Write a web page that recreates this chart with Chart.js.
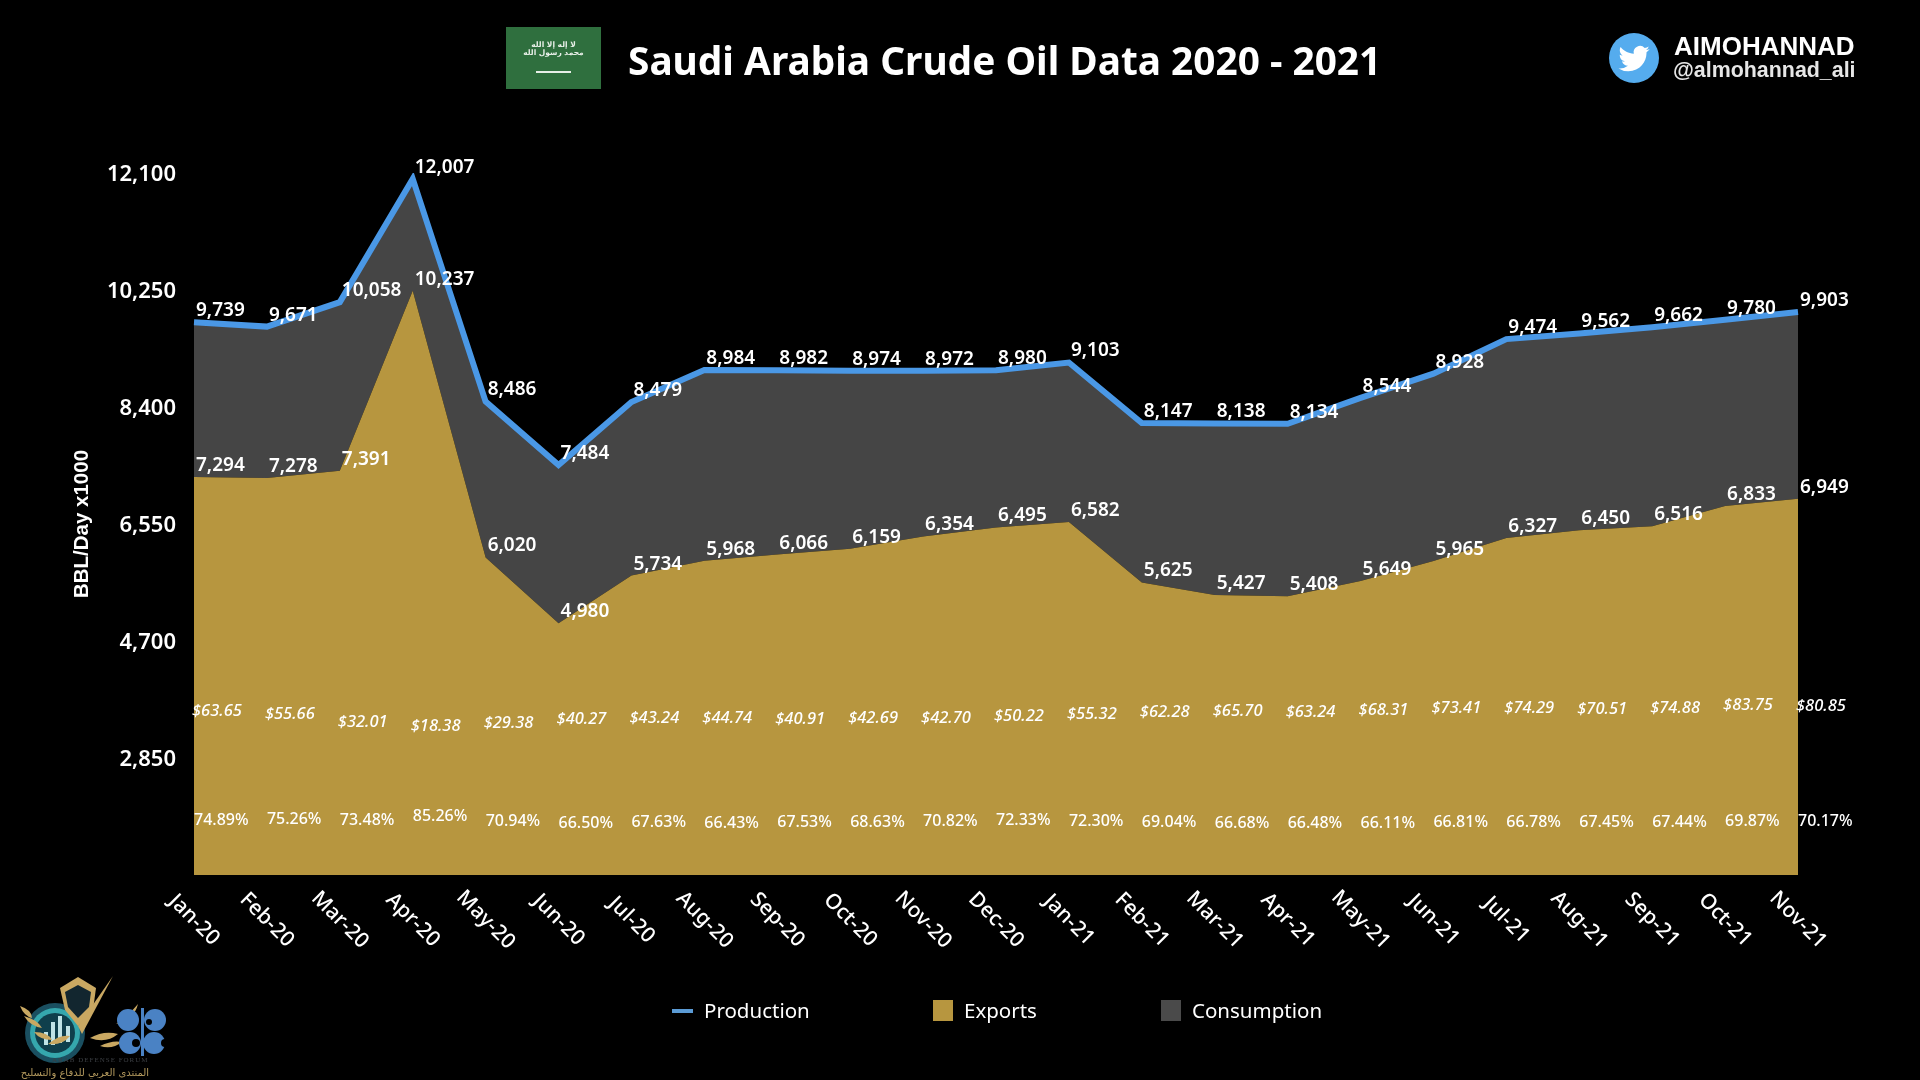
<!DOCTYPE html>
<html>
<head>
<meta charset="utf-8">
<title>Saudi Arabia Crude Oil Data 2020 - 2021</title>
<script src="https://cdn.jsdelivr.net/npm/chart.js@4"></script>
<style>
    html, body { margin: 0; padding: 0; background: #000; }
    #page { position: relative; width: 1920px; height: 1080px; overflow: hidden; background: #000; font-family: "Noto Sans", sans-serif; color: #fff; }
    #chart { position: absolute; left: 0; top: 0; }
    .abs { position: absolute; white-space: nowrap; }
    #title { left: 628px; top: 30px; font-size: 38.8px; font-weight: 700; line-height: 60px; }
    #flag { left: 506px; top: 27px; width: 95px; height: 62px; background: #2f6f3e; }
    #shahada { left: 0; width: 95px; top: 14px; text-align: center; font: 700 7.5px/8px "DejaVu Sans"; color: #e8efe8; }
    #sword { left: 30px; top: 44px; width: 35px; height: 2px; background: #e8efe8; }
    #brand { left: 1674px; top: 30px; font: 700 26px/32px "Liberation Sans"; }
    #handle { left: 1673px; top: 57px; font: 700 21.4px/26px "Liberation Sans"; color: #e6e6e6; }
    .legend-text { top: 993px; font-size: 20.5px; line-height: 34px; }
    .swatch { top: 1000px; width: 20px; height: 21px; }
</style>
</head>
<body>
<div id="page">
    <canvas id="chart" width="1920" height="1080"></canvas>

    <div class="abs" id="flag">
        <div class="abs" id="shahada" dir="rtl">لا إله إلا الله<br>محمد رسول الله</div>
        <div class="abs" id="sword"></div>
    </div>
    <div class="abs" id="title">Saudi Arabia Crude Oil Data 2020 - 2021</div>

    <svg class="abs" style="left:1609px;top:33px" width="50" height="50" viewBox="0 0 50 50">
        <circle cx="25" cy="25" r="25" fill="#55acee"/>
        <path transform="translate(9.5,10) scale(1.3)" fill="#fff" d="M23.953 4.57a10 10 0 01-2.825.775 4.958 4.958 0 002.163-2.723c-.951.555-2.005.959-3.127 1.184a4.92 4.92 0 00-8.384 4.482C7.69 8.095 4.067 6.13 1.64 3.162a4.822 4.822 0 00-.666 2.475c0 1.71.87 3.213 2.188 4.096a4.904 4.904 0 01-2.228-.616v.06a4.923 4.923 0 003.946 4.827 4.996 4.996 0 01-2.212.085 4.936 4.936 0 004.604 3.417 9.867 9.867 0 01-6.102 2.105c-.39 0-.779-.023-1.17-.067a13.995 13.995 0 007.557 2.209c9.053 0 13.998-7.496 13.998-13.985 0-.21 0-.42-.015-.63A9.935 9.935 0 0024 4.59z"/>
    </svg>
    <div class="abs" id="brand">AIMOHANNAD</div>
    <div class="abs" id="handle">@almohannad_ali</div>

    <!-- legend -->
    <div class="abs" style="left:672px;top:1009px;width:21px;height:4px;background:#5b9bd5"></div>
    <div class="abs legend-text" style="left:704px">Production</div>
    <div class="abs swatch" style="left:933px;background:#b7963f"></div>
    <div class="abs legend-text" style="left:964px">Exports</div>
    <div class="abs swatch" style="left:1161px;background:#4a4a4a"></div>
    <div class="abs legend-text" style="left:1192px">Consumption</div>

    <!-- forum and OPEC logos -->
    <svg class="abs" style="left:0;top:960px" width="190" height="120" viewBox="0 0 190 120">
        <circle cx="55" cy="73" r="30" fill="#1a4f60"/>
        <circle cx="55" cy="73" r="25" fill="#35a7ad"/>
        <circle cx="55" cy="73" r="20" fill="#0f3f4c"/>
        <g fill="#bfe3e6">
            <rect x="44" y="72" width="4" height="13"/><rect x="51" y="62" width="4" height="23"/>
            <rect x="58" y="56" width="4" height="27"/><rect x="66" y="66" width="4" height="16"/>
        </g>
        <path d="M60 28 L78 17 L96 28 L93 50 L78 66 L65 50 Z" fill="#c9a862"/>
        <path d="M65 32 L78 25 L91 32 L89 47 L78 58 L68 47 Z" fill="#12262f"/>
        <path d="M78 66 L113 16 L82 74 Z" fill="#c9a862"/>
        <g fill="#c9a862">
            <path d="M20 46 Q32 50 32 58 Q24 56 20 46 Z"/><path d="M24 56 Q38 60 42 68 Q30 66 24 56 Z"/>
            <path d="M34 72 Q48 72 52 80 Q40 80 34 72 Z"/><path d="M48 84 Q60 74 70 76 Q62 86 48 84 Z"/>
            <path d="M90 78 Q104 70 118 74 Q106 84 90 78 Z"/><path d="M100 86 Q112 80 122 82 Q112 90 100 86 Z"/>
            <path d="M116 64 Q128 56 138 44 Q134 60 116 64 Z"/>
        </g>
        <g fill="#4a82c4">
            <circle cx="128" cy="60" r="11"/><circle cx="155" cy="60" r="11"/>
            <circle cx="130" cy="83" r="11"/><circle cx="154" cy="83" r="11"/>
            <rect x="141" y="48" width="3" height="48"/>
        </g>
        <g fill="#000">
            <circle cx="136" cy="83" r="4"/><circle cx="165" cy="83" r="4"/><circle cx="149" cy="62" r="3"/>
        </g>
        <text x="52" y="102" font-family="Liberation Serif" font-size="7" letter-spacing="1" fill="#3c3f44">ARAB DEFENSE FORUM</text>
        <text x="85" y="116" font-family="DejaVu Sans" font-size="10" text-anchor="middle" fill="#b49a5e" dir="rtl">المنتدى العربي للدفاع والتسليح</text>
    </svg>
</div>

<script>
const months = ['Jan-20', 'Feb-20', 'Mar-20', 'Apr-20', 'May-20', 'Jun-20', 'Jul-20', 'Aug-20', 'Sep-20', 'Oct-20', 'Nov-20', 'Dec-20',
    'Jan-21', 'Feb-21', 'Mar-21', 'Apr-21', 'May-21', 'Jun-21', 'Jul-21', 'Aug-21', 'Sep-21', 'Oct-21', 'Nov-21'];
const production = [9739, 9671, 10058, 12007, 8486, 7484, 8479, 8984, 8982, 8974, 8972, 8980, 9103, 8147, 8138, 8134, 8544, 8928, 9474, 9562, 9662, 9780, 9903];
const exportsBbl = [7294, 7278, 7391, 10237, 6020, 4980, 5734, 5968, 6066, 6159, 6354, 6495, 6582, 5625, 5427, 5408, 5649, 5965, 6327, 6450, 6516, 6833, 6949];
const consumption = [2445, 2393, 2667, 1770, 2466, 2504, 2745, 3016, 2916, 2815, 2618, 2485, 2521, 2522, 2711, 2726, 2895, 2963, 3147, 3112, 3146, 2947, 2954];
const oilPrice = [63.65, 55.66, 32.01, 18.38, 29.38, 40.27, 43.24, 44.74, 40.91, 42.69, 42.70, 50.22, 55.32, 62.28, 65.70, 63.24, 68.31, 73.41, 74.29, 70.51, 74.88, 83.75, 80.85];
const exportShare = [74.89, 75.26, 73.48, 85.26, 70.94, 66.50, 67.63, 66.43, 67.53, 68.63, 70.82, 72.33, 72.30, 69.04, 66.68, 66.48, 66.11, 66.81, 66.78, 67.45, 67.44, 69.87, 70.17];

const FONT = '"Noto Sans", sans-serif';

// The price and share rows float with their value, so map them onto the main axis
const priceToAxis = (p) => 3247 + p * 5.25;
const shareToAxis = (s) => 1447 + s * 5.64;

// Draws the value labels and the slanted month labels
const labelPlugin = {
    id: 'labelPlugin',
    beforeDraw(chart) {
        // Noto sits a little high against the reference, nudge the tick labels down
        chart.scales.y.getLabelItems().forEach((item) => {
            item.options.translation[1] += 2;
        });
    },
    afterDraw(chart) {
        const { ctx, scales } = chart;
        const x = scales.x;
        const y = scales.y;
        ctx.save();
        ctx.fillStyle = '#fff';
        ctx.textAlign = 'left';

        ctx.font = '600 19px ' + FONT;
        ctx.textBaseline = 'bottom';
        months.forEach((m, i) => {
            const px = x.getPixelForValue(i) + 2;
            ctx.fillText(production[i].toLocaleString('en-US'), px, y.getPixelForValue(production[i]) - 2);
            ctx.fillText(exportsBbl[i].toLocaleString('en-US'), px, y.getPixelForValue(exportsBbl[i]) - 2);
        });

        ctx.textBaseline = 'middle';
        ctx.font = 'italic 500 16.5px ' + FONT;
        months.forEach((m, i) => {
            ctx.fillText('$' + oilPrice[i].toFixed(2), x.getPixelForValue(i) - 2, y.getPixelForValue(priceToAxis(oilPrice[i])));
        });
        ctx.font = '500 16px ' + FONT;
        months.forEach((m, i) => {
            ctx.fillText(exportShare[i].toFixed(2) + '%', x.getPixelForValue(i), y.getPixelForValue(shareToAxis(exportShare[i])));
        });

        // month labels sit centred under their tick, slanted downwards
        ctx.font = '500 21px ' + FONT;
        ctx.textAlign = 'center';
        months.forEach((m, i) => {
            ctx.save();
            ctx.translate(x.getPixelForValue(i), chart.chartArea.bottom + 45);
            ctx.rotate(Math.PI / 4);
            ctx.fillText(m, 0, 0);
            ctx.restore();
        });
        ctx.restore();
    },
};

new Chart(document.getElementById('chart'), {
    type: 'line',
    data: {
        labels: months,
        datasets: [
            {
                label: 'Production',
                data: production,
                stack: 'output',
                borderColor: '#4a98e6',
                borderWidth: 6,
                borderJoinStyle: 'miter',
                pointRadius: 0,
                fill: false,
            },
            {
                label: 'Exports',
                data: exportsBbl,
                stack: 'split',
                backgroundColor: '#b7963f',
                borderWidth: 0,
                pointRadius: 0,
                fill: 'origin',
            },
            {
                label: 'Consumption',
                data: consumption,
                stack: 'split',
                backgroundColor: '#454545',
                borderWidth: 0,
                pointRadius: 0,
                fill: '-1',
            },
        ],
    },
    options: {
        responsive: false,
        animation: false,
        devicePixelRatio: 1,
        layout: { padding: { left: 66, right: 122, top: 173, bottom: 205 } },
        plugins: { legend: { display: false }, tooltip: { enabled: false } },
        scales: {
            x: {
                grid: { display: false },
                border: { display: false },
                ticks: { display: false },
                afterFit(scale) {
                    scale.height = 0;
                },
            },
            y: {
                stacked: true,
                min: 1000,
                max: 12100,
                grid: { display: false },
                border: { display: false },
                afterFit(scale) {
                    scale.width = 128;
                    scale.paddingTop = 0;
                    scale.paddingBottom = 0;
                },
                title: {
                    display: true,
                    text: 'BBL/Day x1000',
                    color: '#fff',
                    font: { family: '"Liberation Sans"', size: 20.5, weight: 'bold' },
                },
                ticks: {
                    stepSize: 1850,
                    padding: 10,
                    color: '#fff',
                    font: { family: FONT, size: 22, weight: '600' },
                    callback: (v) => (v === 1000 ? '' : v.toLocaleString('en-US')),
                },
            },
        },
    },
    plugins: [labelPlugin],
});
</script>
</body>
</html>
